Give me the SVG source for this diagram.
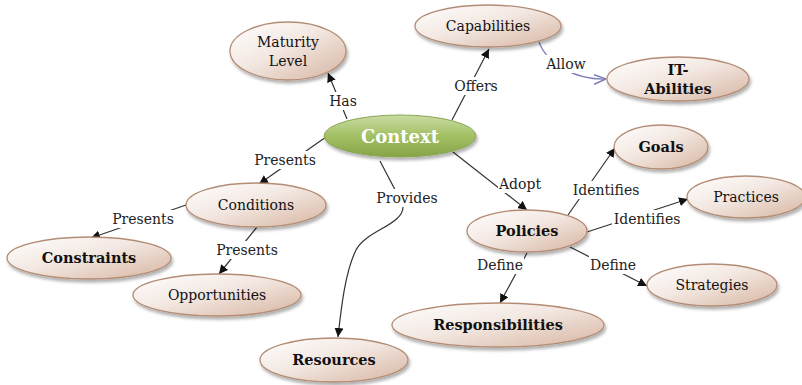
<svg xmlns="http://www.w3.org/2000/svg" width="802" height="385" viewBox="0 0 802 385">
<defs>
<linearGradient id="tan" x1="0" y1="0" x2="1" y2="1">
<stop offset="0" stop-color="#ffffff"/>
<stop offset="0.45" stop-color="#f3e8e2"/>
<stop offset="1" stop-color="#d6b4a0"/>
</linearGradient>
<linearGradient id="green" x1="0" y1="0" x2="0" y2="1">
<stop offset="0" stop-color="#c9dca4"/>
<stop offset="0.5" stop-color="#a3c063"/>
<stop offset="1" stop-color="#86a447"/>
</linearGradient>
<filter id="sh" x="-20%" y="-30%" width="140%" height="170%">
<feDropShadow dx="1.5" dy="3" stdDeviation="1.8" flood-color="#000" flood-opacity="0.3"/>
</filter>
<marker id="ar" viewBox="0 0 10 10" refX="10" refY="5" markerWidth="9" markerHeight="9" markerUnits="userSpaceOnUse" orient="auto">
<path d="M0,0 L10,5 L0,10 z" fill="#111"/>
</marker>
<marker id="ov" viewBox="0 0 10 10" refX="10" refY="5" markerWidth="12" markerHeight="12" markerUnits="userSpaceOnUse" orient="auto">
<path d="M0,1 L10,5 L0,9" fill="none" stroke="#7a7ab8" stroke-width="1.3"/>
</marker>
</defs>
<style>
.n{fill:url(#tan);stroke:#b48c74;stroke-width:1.3;filter:url(#sh)}
.c{fill:none;stroke:#333;stroke-width:1.2}
.t{font-family:"DejaVu Serif","Liberation Serif",serif;font-size:14px;fill:#111;text-anchor:middle}
.b{font-weight:bold;font-size:14.5px}
.l{font-family:"DejaVu Serif","Liberation Serif",serif;font-size:14px;fill:#222;text-anchor:middle}
.lb{fill:#fff}
</style>
<rect width="802" height="385" fill="#fff"/>
<g id="connectors">
<line class="c" x1="347" y1="119" x2="328" y2="73" marker-end="url(#ar)"/>
<line class="c" x1="452" y1="120" x2="489" y2="49" marker-end="url(#ar)"/>
<path d="M539 42 C548 66 578 80 606 79" fill="none" stroke="#7a7ab8" stroke-width="1.2" marker-end="url(#ov)"/>
<line class="c" x1="326" y1="137" x2="259" y2="184" marker-end="url(#ar)"/>
<line class="c" x1="186" y1="205" x2="91" y2="238" marker-end="url(#ar)"/>
<line class="c" x1="257" y1="227" x2="219" y2="274" marker-end="url(#ar)"/>
<path class="c" d="M380 161 L403 205 C405 225 366 230 356 250 C345 272 341 310 338 337" marker-end="url(#ar)"/>
<line class="c" x1="453" y1="152" x2="527" y2="210" marker-end="url(#ar)"/>
<line class="c" x1="568" y1="215" x2="615" y2="148" marker-end="url(#ar)"/>
<line class="c" x1="587" y1="232" x2="688" y2="199" marker-end="url(#ar)"/>
<line class="c" x1="570" y1="247" x2="647" y2="286" marker-end="url(#ar)"/>
<line class="c" x1="527" y1="253" x2="500" y2="303" marker-end="url(#ar)"/>
<rect class="lb" x="328" y="92" width="30" height="18"/>
<text class="l" x="343" y="106">Has</text>
<rect class="lb" x="453" y="77" width="46" height="18"/>
<text class="l" x="476" y="91">Offers</text>
<rect class="lb" x="545" y="55" width="42" height="18"/>
<text class="l" x="566" y="69">Allow</text>
<rect class="lb" x="253" y="151" width="64" height="18"/>
<text class="l" x="285" y="165">Presents</text>
<rect class="lb" x="111" y="210" width="64" height="18"/>
<text class="l" x="143" y="224">Presents</text>
<rect class="lb" x="215" y="241" width="64" height="18"/>
<text class="l" x="247" y="255">Presents</text>
<rect class="lb" x="374" y="189" width="66" height="18"/>
<text class="l" x="407" y="203">Provides</text>
<rect class="lb" x="498" y="175" width="44" height="18"/>
<text class="l" x="520" y="189">Adopt</text>
<rect class="lb" x="571" y="181" width="70" height="18"/>
<text class="l" x="606" y="195">Identifies</text>
<rect class="lb" x="612" y="210" width="70" height="18"/>
<text class="l" x="647" y="224">Identifies</text>
<rect class="lb" x="476" y="256" width="48" height="18"/>
<text class="l" x="500" y="270">Define</text>
<rect class="lb" x="589" y="256" width="48" height="18"/>
<text class="l" x="613" y="270">Define</text>
</g>
<g id="context">
<ellipse cx="400" cy="136" rx="76" ry="21" fill="url(#green)" stroke="#8aa653" stroke-width="1" filter="url(#sh)"/>
<text x="400" y="143" font-family="DejaVu Serif,Liberation Serif,serif" font-size="18" font-weight="bold" fill="#fff" text-anchor="middle">Context</text>
</g>
<g id="maturity">
<ellipse class="n" cx="288" cy="51" rx="58" ry="29"/>
<text class="t" x="288" y="47">Maturity</text>
<text class="t" x="288" y="66">Level</text>
</g>
<g id="capabilities">
<ellipse class="n" cx="488" cy="26" rx="73" ry="21"/>
<text class="t" x="488" y="31">Capabilities</text>
</g>
<g id="itabilities">
<ellipse class="n" cx="678" cy="79" rx="71" ry="22"/>
<text class="t b" x="678" y="75">IT-</text>
<text class="t b" x="678" y="94">Abilities</text>
</g>
<g id="conditions">
<ellipse class="n" cx="256" cy="205" rx="70" ry="22"/>
<text class="t" x="256" y="210">Conditions</text>
</g>
<g id="constraints">
<ellipse class="n" cx="89" cy="258" rx="82" ry="21"/>
<text class="t b" x="89" y="263">Constraints</text>
</g>
<g id="opportunities">
<ellipse class="n" cx="217" cy="295" rx="84" ry="21"/>
<text class="t" x="217" y="300">Opportunities</text>
</g>
<g id="resources">
<ellipse class="n" cx="334" cy="360" rx="74" ry="22"/>
<text class="t b" x="334" y="365">Resources</text>
</g>
<g id="policies">
<ellipse class="n" cx="527" cy="231" rx="60" ry="21"/>
<text class="t b" x="527" y="236">Policies</text>
</g>
<g id="responsibilities">
<ellipse class="n" cx="498" cy="325" rx="106" ry="22"/>
<text class="t b" x="498" y="330">Responsibilities</text>
</g>
<g id="goals">
<ellipse class="n" cx="661" cy="147" rx="47" ry="22"/>
<text class="t b" x="661" y="152">Goals</text>
</g>
<g id="practices">
<ellipse class="n" cx="746" cy="197" rx="59" ry="21"/>
<text class="t" x="746" y="202">Practices</text>
</g>
<g id="strategies">
<ellipse class="n" cx="712" cy="285" rx="65" ry="21"/>
<text class="t" x="712" y="290">Strategies</text>
</g>
</svg>
